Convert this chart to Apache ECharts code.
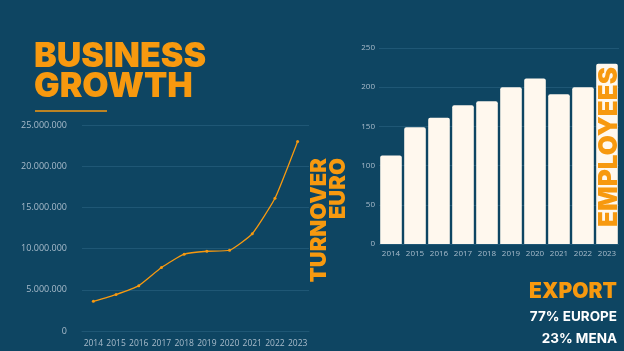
<!DOCTYPE html>
<html>
<head>
<meta charset="utf-8">
<script src="https://cdn.jsdelivr.net/npm/echarts@6/dist/echarts.min.js"></script>
<style>
  html, body { margin: 0; padding: 0; background: #0e4562; }
  #chart { width: 624px; height: 351px; }
</style>
</head>
<body>
<div id="chart"></div>
<script>
  // data
  const years = ['2014', '2015', '2016', '2017', '2018', '2019', '2020', '2021', '2022', '2023'];
  const turnover = [3600000, 4420000, 5500000, 7700000, 9320000, 9680000, 9800000, 11800000, 16100000, 23000000];
  const employees = [113, 149, 161, 177, 182, 200, 211, 191, 200, 230];
  const exportLines = ['77% EUROPE', '23% MENA'];

  const orange = '#f7990f';
  const labelColor = '#a9bccb';
  const gridColor = '#1f5775';

  const chart = echarts.init(document.getElementById('chart'));

  // 25000000 -> 25.000.000
  function dotted(v) {
    return String(v).replace(/\B(?=(\d{3})+(?!\d))/g, '.');
  }

  const option = {
    backgroundColor: '#0e4562',
    animation: false,
    grid: [
      { left: 82, right: 315, top: 125, bottom: 20 },
      { left: 379, right: 5, top: 48, bottom: 107 }
    ],
    xAxis: [
      {
        gridIndex: 0,
        type: 'category',
        data: years,
        axisLine: { show: true, lineStyle: { color: gridColor } },
        axisTick: { show: false },
        axisLabel: { color: labelColor, fontSize: 8.5, fontFamily: 'Open Sans', margin: 8, interval: 0 }
      },
      {
        gridIndex: 1,
        type: 'category',
        data: years,
        axisLine: { show: false },
        axisTick: { show: false },
        axisLabel: { color: labelColor, fontSize: 8, fontFamily: 'Open Sans', margin: 6, interval: 0 }
      }
    ],
    yAxis: [
      {
        gridIndex: 0,
        type: 'value',
        min: 0,
        max: 25000000,
        interval: 5000000,
        axisLabel: { color: labelColor, fontSize: 9, fontFamily: 'Open Sans', margin: 15, formatter: dotted },
        splitLine: { lineStyle: { color: gridColor } }
      },
      {
        gridIndex: 1,
        type: 'value',
        min: 0,
        max: 250,
        interval: 50,
        axisLabel: { color: labelColor, fontSize: 8, fontFamily: 'Open Sans', margin: 4 },
        splitLine: { lineStyle: { color: gridColor } }
      }
    ],
    series: [
      {
        name: 'Turnover',
        type: 'line',
        xAxisIndex: 0,
        yAxisIndex: 0,
        data: turnover,
        smooth: 0.15,
        symbol: 'circle',
        symbolSize: 3,
        lineStyle: { color: orange, width: 1.3 },
        itemStyle: { color: orange }
      },
      {
        name: 'Employees',
        type: 'bar',
        xAxisIndex: 1,
        yAxisIndex: 1,
        data: employees,
        barCategoryGap: '10%',
        itemStyle: { color: '#fff8ee', borderRadius: [2, 2, 0, 0] }
      }
    ],
    graphic: [
      {
        type: 'text', left: 34, top: 40,
        style: {
          text: 'BUSINESS\nGROWTH', fill: orange,
          font: '900 34px Inter', lineHeight: 30
        }
      },
      {
        type: 'line',
        shape: { x1: 35, y1: 111, x2: 107, y2: 111 },
        style: { stroke: orange, lineWidth: 1.5 }
      },
      {
        type: 'text', x: 310, y: 158, rotation: Math.PI / 2,
        style: {
          text: 'TURNOVER\nEURO', fill: orange, align: 'right', verticalAlign: 'top',
          font: '900 22px Inter', lineHeight: 19
        }
      },
      {
        type: 'text', x: 596, y: 227, rotation: Math.PI / 2, z: 10,
        style: {
          text: 'EMPLOYEES', fill: orange, align: 'left', verticalAlign: 'top',
          font: '900 26px Inter'
        }
      },
      {
        type: 'text', right: 7, top: 281,
        style: { text: 'EXPORT', fill: orange, font: '900 21px Inter', align: 'right' }
      },
      {
        type: 'text', right: 7, top: 310,
        style: { text: exportLines[0], fill: '#ffffff', font: '700 13.5px Inter', align: 'right' }
      },
      {
        type: 'text', right: 7, top: 332,
        style: { text: exportLines[1], fill: '#ffffff', font: '700 13.5px Inter', align: 'right' }
      }
    ]
  };

  chart.setOption(option);
</script>
</body>
</html>
